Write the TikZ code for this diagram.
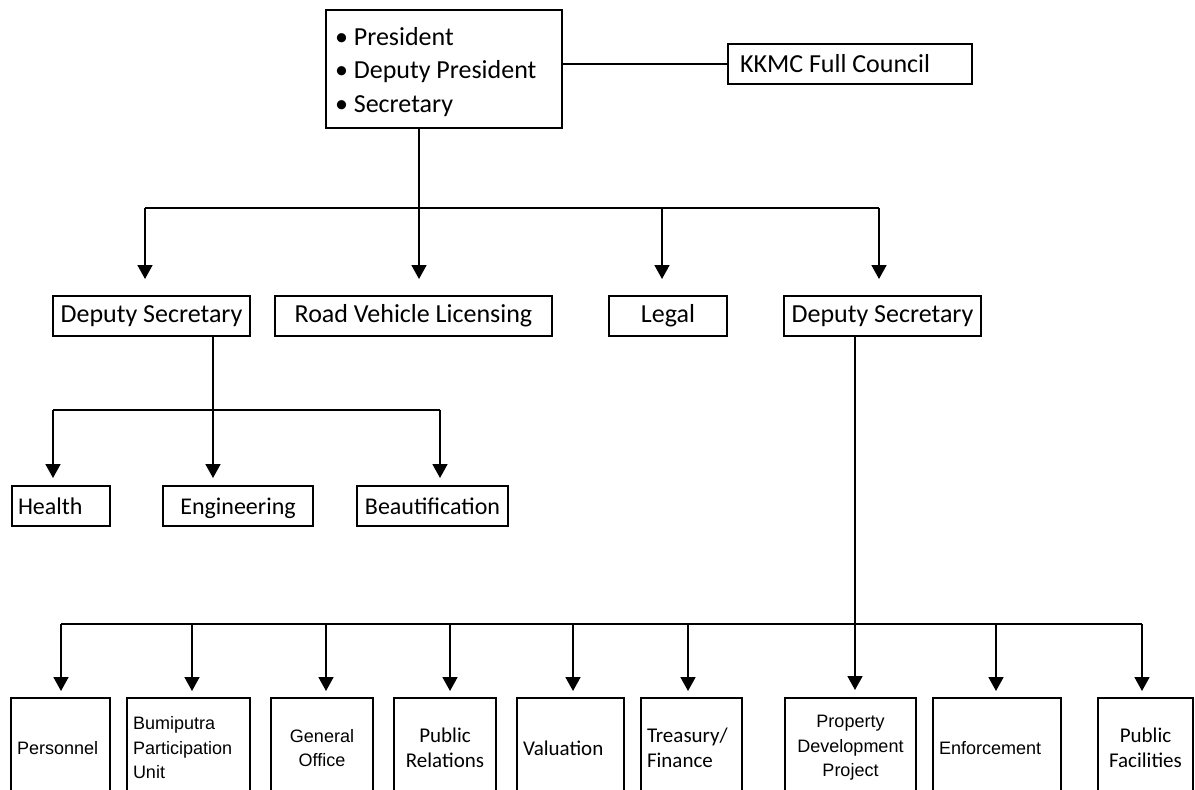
\documentclass[tikz,border=0pt]{standalone}
\usepackage{fontspec}
\setmainfont{Carlito}
\newfontfamily\arialf{Liberation Sans}
\usetikzlibrary{arrows.meta,calc}
\tikzset{
  bx/.style={draw, line width=1.8pt, inner ysep=0pt, inner xsep=6pt, anchor=north west, outer sep=0pt},
  ln/.style={line width=1.8pt},
  arr/.style={line width=1.8pt, -{Triangle[width=15pt,length=14pt]}},
  fA/.style={font=\fontsize{26}{33.5}\selectfont},
  fB/.style={font=\fontsize{24}{29}\selectfont, text height=18pt, text depth=2pt},
  fC/.style={font=\fontsize{21}{25}\selectfont},
  fD/.style={font=\arialf\fontsize{18}{24.5}\selectfont},
  one/.style={text height=18pt, text depth=5pt},
}
\begin{document}
\begin{tikzpicture}[x=1pt,y=-1pt]
\useasboundingbox (0,0) rectangle (1195,790);
\clip (0,0) rectangle (1195,790);
\fill[white] (0,0) rectangle (1195,790);

% top level
\node[bx, fA, minimum width=236pt, minimum height=118pt, text width=218pt, inner xsep=9pt, align=flush left, text height=24pt] (top) at (326,10)
  {• President\\• Deputy President\\• Secretary};
\node[bx, fA, text height=18pt, text depth=1pt, minimum width=244pt, minimum height=40pt, text width=220pt, inner xsep=12pt, align=flush left] (kk) at (728,44)
  {KKMC Full Council};
\draw[ln] (top.east |- kk.west) -- (kk.west);

% level 2
\coordinate (b2a) at (145,208);
\coordinate (b2b) at (419,208);
\coordinate (b2c) at (662,208);
\coordinate (b2d) at (879,208);
\node[bx, fA, one, minimum width=197pt, minimum height=40pt] (dsl) at (53,296) {Deputy Secretary};
\node[bx, fA, one, minimum width=277pt, minimum height=40pt] (rvl) at (275,296) {Road Vehicle Licensing};
\node[bx, fA, one, minimum width=118pt, minimum height=40pt] (leg) at (609,296) {Legal};
\node[bx, fA, one, minimum width=197pt, minimum height=40pt] (dsr) at (784,296) {Deputy Secretary};
\draw[ln] (top.south -| b2b) -- (b2b);
\draw[ln] (b2a) -- (b2d);
\draw[arr] (b2a) -- ($(dsl.north -| b2a)+(0,-17)$);
\draw[arr] (b2b) -- ($(rvl.north -| b2b)+(0,-17)$);
\draw[arr] (b2c) -- ($(leg.north -| b2c)+(0,-17)$);
\draw[arr] (b2d) -- ($(dsr.north -| b2d)+(0,-17)$);

% level 3 (left deputy)
\coordinate (b3a) at (53,410);
\coordinate (b3b) at (213,410);
\coordinate (b3c) at (440,410);
\node[bx, fB, minimum width=98pt, minimum height=40pt, text width=86pt, align=flush left] (hl) at (12,486) {Health};
\node[bx, fB, minimum width=150pt, minimum height=40pt] (eng) at (163,486) {Engineering};
\node[bx, fB, minimum width=151pt, minimum height=40pt] (bea) at (357,486) {Beautification};
\draw[ln] (dsl.south -| b3b) -- (b3b);
\draw[ln] (b3a) -- (b3c);
\draw[arr] (b3a) -- ($(hl.north -| b3a)+(0,-8)$);
\draw[arr] (b3b) -- ($(eng.north -| b3b)+(0,-8)$);
\draw[arr] (b3c) -- ($(bea.north -| b3c)+(0,-8)$);

% bottom level (right deputy)
\coordinate (b4a) at (61,624);
\coordinate (b4b) at (192,624);
\coordinate (b4c) at (326,624);
\coordinate (b4d) at (450,624);
\coordinate (b4e) at (573,624);
\coordinate (b4f) at (688,624);
\coordinate (b4g) at (855,624);
\coordinate (b4h) at (996,624);
\coordinate (b4i) at (1142,624);
\node[bx, fD, minimum width=99pt, minimum height=100pt, text width=87pt, align=flush left] (per) at (11,698) {Personnel};
\node[bx, fD, minimum width=123pt, minimum height=100pt, text width=111pt, align=flush left] (bpu) at (127,698) {Bumiputra\\Participation\\Unit};
\node[bx, fD, minimum width=102pt, minimum height=100pt, text width=90pt, align=flush center] (gen) at (271,698) {General\\Office};
\node[bx, fC, minimum width=102pt, minimum height=100pt, text width=90pt, align=flush center] (pr) at (394,698) {Public\\Relations};
\node[bx, fC, minimum width=107pt, minimum height=100pt, text width=95pt, align=flush left] (val) at (517,698) {Valuation};
\node[bx, fC, minimum width=101pt, minimum height=100pt, text width=89pt, align=flush left] (tre) at (641,698) {Treasury/\\Finance};
\node[bx, fD, minimum width=131pt, minimum height=100pt, text width=119pt, align=flush center] (pdp) at (785,698) {Property\\Development\\Project};
\node[bx, fD, minimum width=128pt, minimum height=100pt, text width=116pt, align=flush left] (enf) at (933,698) {Enforcement};
\node[bx, fC, minimum width=95pt, minimum height=100pt, text width=83pt, align=flush center] (pf) at (1098,698) {Public\\Facilities};
\draw[ln] (b4a) -- (b4i);
\draw[arr] (dsr.south -| b4g) -- ($(pdp.north -| b4g)+(0,-8)$);
\draw[arr] (b4a) -- ($(per.north -| b4a)+(0,-7)$);
\draw[arr] (b4b) -- ($(bpu.north -| b4b)+(0,-7)$);
\draw[arr] (b4c) -- ($(gen.north -| b4c)+(0,-7)$);
\draw[arr] (b4d) -- ($(pr.north -| b4d)+(0,-7)$);
\draw[arr] (b4e) -- ($(val.north -| b4e)+(0,-7)$);
\draw[arr] (b4f) -- ($(tre.north -| b4f)+(0,-7)$);
\draw[arr] (b4h) -- ($(enf.north -| b4h)+(0,-7)$);
\draw[arr] (b4i) -- ($(pf.north -| b4i)+(0,-7)$);
\end{tikzpicture}
\end{document}
